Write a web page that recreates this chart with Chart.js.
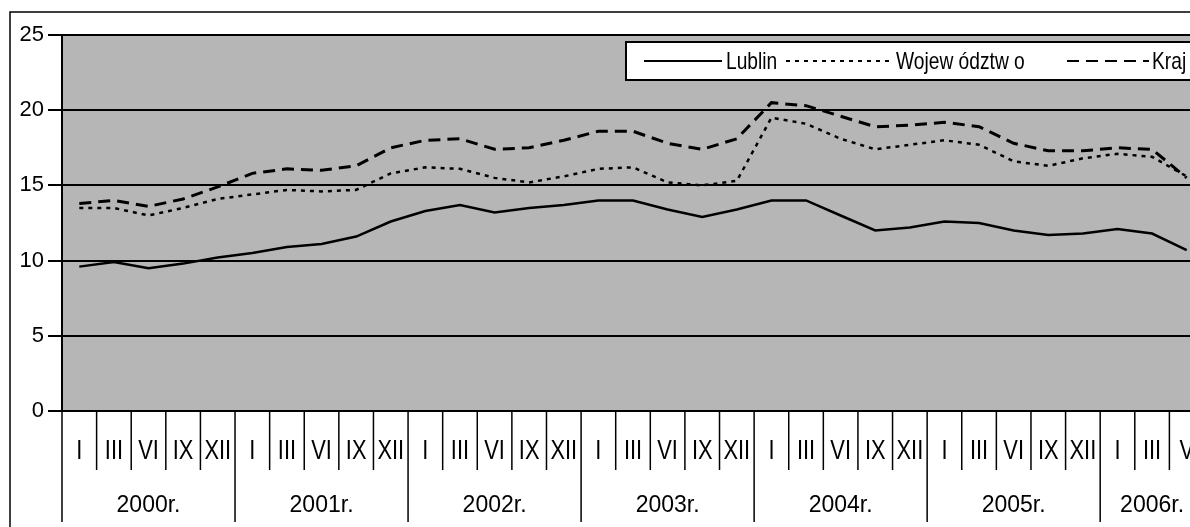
<!DOCTYPE html>
<html>
<head>
<meta charset="utf-8">
<script src="https://cdn.jsdelivr.net/npm/chart.js@4.4.1/dist/chart.umd.min.js"></script>
<style>
    html, body { margin: 0; padding: 0; background: #fff; overflow: hidden; }
    #wrap { width: 1230px; height: 527px; }
</style>
</head>
<body>
<div id="wrap"><canvas id="rate-chart" width="1230" height="527"></canvas></div>
<script>
// categories
const years = ["2000r.", "2001r.", "2002r.", "2003r.", "2004r.", "2005r.", "2006r."];
const yearMonths = [
    ["I", "III", "VI", "IX", "XII"],
    ["I", "III", "VI", "IX", "XII"],
    ["I", "III", "VI", "IX", "XII"],
    ["I", "III", "VI", "IX", "XII"],
    ["I", "III", "VI", "IX", "XII"],
    ["I", "III", "VI", "IX", "XII"],
    ["I", "III", "V"],
];
const yTicks = [0, 5, 10, 15, 20, 25];

// series (%)
const lublin = [9.6, 9.9, 9.5, 9.8, 10.2, 10.5, 10.9, 11.1, 11.6, 12.6, 13.3, 13.7, 13.2, 13.5, 13.7, 14.0, 14.0,
    13.4, 12.9, 13.4, 14.0, 14.0, 13.0, 12.0, 12.2, 12.6, 12.5, 12.0, 11.7, 11.8, 12.1, 11.8, 10.7];
const wojewodztwo = [13.5, 13.5, 13.0, 13.5, 14.1, 14.4, 14.7, 14.6, 14.7, 15.8, 16.2, 16.1, 15.5, 15.2, 15.6, 16.1, 16.2,
    15.2, 15.0, 15.3, 19.5, 19.1, 18.1, 17.4, 17.7, 18.0, 17.7, 16.6, 16.3, 16.8, 17.1, 16.9, 15.6];
const kraj = [13.8, 14.0, 13.6, 14.1, 14.9, 15.8, 16.1, 16.0, 16.3, 17.5, 18.0, 18.1, 17.4, 17.5, 18.0, 18.6, 18.6,
    17.8, 17.4, 18.1, 20.5, 20.3, 19.6, 18.9, 19.0, 19.2, 18.9, 17.8, 17.3, 17.3, 17.5, 17.4, 15.5];

const labels = [];
const yearStart = [];
yearMonths.forEach((list) => {
    yearStart.push(labels.length);
    list.forEach((m) => labels.push(m));
});

const regular = "'Liberation Sans', Arial, sans-serif";

// text squeezed horizontally (original uses a narrow face)
function narrowText(ctx, text, x, y, sx) {
    ctx.save();
    ctx.translate(x, y);
    ctx.scale(sx, 1);
    ctx.fillText(text, 0, 0);
    ctx.restore();
}

// grey plot background, two-row category axis, legend box and frame
const decor = {
    id: "decor",
    beforeDraw(chart) {
        const { ctx, chartArea: a } = chart;
        ctx.save();
        ctx.fillStyle = "#b6b6b6";
        ctx.fillRect(a.left, a.top, a.right - a.left, a.bottom - a.top);
        ctx.restore();
    },
    afterDraw(chart) {
        const { ctx, chartArea: a } = chart;
        const xs = chart.scales.x;
        const step = xs.getPixelForValue(1) - xs.getPixelForValue(0);
        ctx.save();
        ctx.strokeStyle = "#000";
        ctx.fillStyle = "#000";
        ctx.lineWidth = 1.5;

        // outer frame
        ctx.beginPath();
        ctx.moveTo(10, 527);
        ctx.lineTo(10, 12);
        ctx.lineTo(1230, 12);
        ctx.stroke();

        // month labels + separators
        ctx.font = "28px " + regular;
        ctx.textAlign = "center";
        ctx.textBaseline = "middle";
        labels.forEach((m, i) => {
            const cx = xs.getPixelForValue(i);
            narrowText(ctx, m, cx, 451, 0.78);
            const edge = cx + step / 2;
            const yearEdge = yearStart.includes(i + 1);
            ctx.beginPath();
            ctx.moveTo(edge, a.bottom);
            ctx.lineTo(edge, yearEdge ? 522 : 470);
            ctx.stroke();
        });
        ctx.beginPath();
        ctx.moveTo(a.left, a.bottom);
        ctx.lineTo(a.left, 522);
        ctx.stroke();

        // year labels
        ctx.font = "23px " + regular;
        years.forEach((y, k) => {
            const first = yearStart[k];
            const last = first + yearMonths[k].length - 1;
            const cx = (xs.getPixelForValue(first) + xs.getPixelForValue(last)) / 2;
            ctx.fillText(y, cx, 506);
        });

        // legend
        const lx = 626, ly = 42, lh = 38;
        ctx.fillStyle = "#fff";
        ctx.fillRect(lx, ly, 700, lh);
        ctx.lineWidth = 2;
        ctx.strokeRect(lx, ly, 700, lh);
        const items = [
            { ds: 0, x1: 644, x2: 722, tx: 726 },
            { ds: 1, x1: 786, x2: 892, tx: 896 },
            { ds: 2, x1: 1067, x2: 1149, tx: 1152 },
        ];
        const my = ly + lh / 2;
        ctx.font = "24px " + regular;
        ctx.textAlign = "left";
        ctx.fillStyle = "#000";
        items.forEach((it) => {
            const d = chart.data.datasets[it.ds];
            ctx.save();
            ctx.lineWidth = 2;
            ctx.setLineDash(d.borderDash || []);
            ctx.beginPath();
            ctx.moveTo(it.x1, my);
            ctx.lineTo(it.x2, my);
            ctx.stroke();
            ctx.restore();
            narrowText(ctx, d.label, it.tx, my + 1, 0.8);
        });
        ctx.restore();
    },
};

const ctx = document.getElementById("rate-chart").getContext("2d");
const rateChart = new Chart(ctx, {
    type: "line",
    data: {
        labels: labels,
        datasets: [
            {
                label: "Lublin",
                data: lublin,
                borderColor: "#000",
                borderWidth: 2.5,
                pointRadius: 0,
                tension: 0,
                fill: false,
            },
            {
                label: "Wojew ództw o",
                data: wojewodztwo,
                borderColor: "#000",
                borderWidth: 2.5,
                borderDash: [4, 5],
                pointRadius: 0,
                tension: 0,
                fill: false,
            },
            {
                label: "Kraj",
                data: kraj,
                borderColor: "#000",
                borderWidth: 3,
                borderDash: [12, 7],
                pointRadius: 0,
                tension: 0,
                fill: false,
            },
        ],
    },
    options: {
        responsive: false,
        animation: false,
        layout: { padding: { left: 0, top: 35, right: 26, bottom: 0 } },
        plugins: {
            legend: { display: false },
            tooltip: { enabled: false },
        },
        scales: {
            x: {
                type: "category",
                offset: true,
                ticks: { display: false },
                grid: { display: false },
                border: { display: true, color: "#000", width: 2 },
                afterFit: (s) => { s.height = 116; },
            },
            y: {
                min: 0,
                max: 25,
                afterBuildTicks: (s) => { s.ticks = yTicks.map((v) => ({ value: v })); },
                ticks: {
                    color: "#000",
                    padding: 4,
                    font: { family: regular, size: 22 },
                },
                grid: { color: "#000", lineWidth: 2, tickLength: 14 },
                border: { display: true, color: "#000", width: 2 },
                afterFit: (s) => { s.width = 62; },
            },
        },
    },
    plugins: [decor],
});
</script>
</body>
</html>
